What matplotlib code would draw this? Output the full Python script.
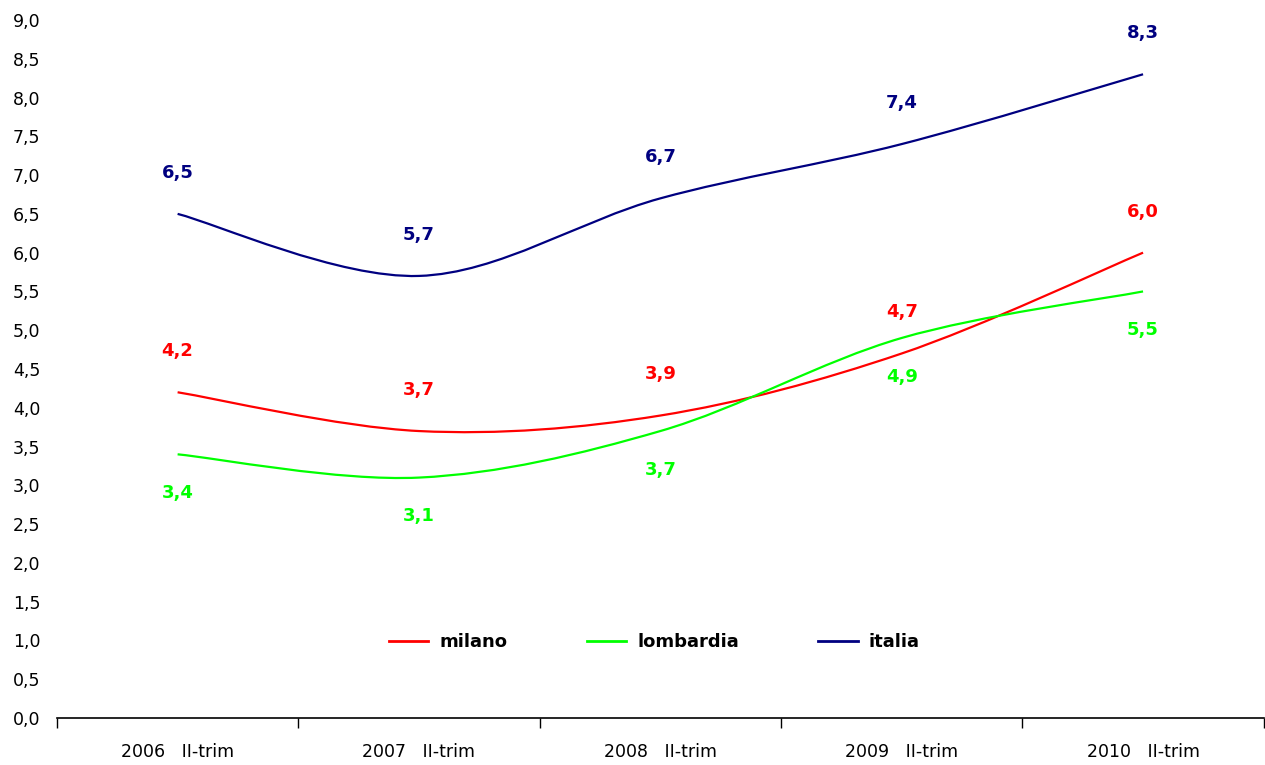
import matplotlib
matplotlib.use("Agg")
import matplotlib.pyplot as plt
from matplotlib.path import Path
from matplotlib.patches import PathPatch
from matplotlib.lines import Line2D
from matplotlib.ticker import FuncFormatter, MultipleLocator, FixedLocator

# data
categories = ["2006   II-trim", "2007   II-trim", "2008   II-trim", "2009   II-trim", "2010   II-trim"]
milano = [4.2, 3.7, 3.9, 4.7, 6.0]
lombardia = [3.4, 3.1, 3.7, 4.9, 5.5]
italia = [6.5, 5.7, 6.7, 7.4, 8.3]

series = [("milano", milano, "#FF0000", 1), ("lombardia", lombardia, "#00FF00", -1),
          ("italia", italia, "#000080", 1)]


def smooth_path(xs, ys, t=1 / 6):
    # bezier curve through the points, like excel's smoothed line
    verts = [(xs[0], ys[0])]
    codes = [Path.MOVETO]
    n = len(xs)
    for i in range(n - 1):
        x0, y0 = (xs[i - 1], ys[i - 1]) if i > 0 else (xs[i], ys[i])
        x1, y1 = xs[i], ys[i]
        x2, y2 = xs[i + 1], ys[i + 1]
        x3, y3 = (xs[i + 2], ys[i + 2]) if i + 2 < n else (x2, y2)
        c1 = (x1 + (x2 - x0) * t, y1 + (y2 - y0) * t)
        c2 = (x2 - (x3 - x1) * t, y2 - (y3 - y1) * t)
        verts += [c1, c2, (x2, y2)]
        codes += [Path.CURVE4] * 3
    return Path(verts, codes)


fig = plt.figure(figsize=(12.65, 7.65), dpi=100)
ax = fig.add_axes([0.045, 0.0614, 0.954, 0.9125])

x = list(range(len(categories)))
handles = []
for name, vals, col, side in series:
    ax.add_patch(PathPatch(smooth_path(x, vals), facecolor="none", edgecolor=col, lw=1.6))
    for xi, v in zip(x, vals):
        off = 0.53 if side > 0 else -0.5
        ax.text(xi, v + off, f"{v:.1f}".replace(".", ","), color=col, fontsize=13,
                fontweight="bold", ha="center", va="center")
    handles.append(Line2D([], [], color=col, lw=2, label=name))

ax.set_xlim(-0.5, 4.5)
ax.set_ylim(0, 9)
ax.yaxis.set_major_locator(MultipleLocator(0.5))
ax.yaxis.set_major_formatter(FuncFormatter(lambda v, p: f"{v:.1f}".replace(".", ",")))
ax.set_xticks(x)
ax.set_xticklabels(categories)
ax.xaxis.set_minor_locator(FixedLocator([i - 0.5 for i in range(len(categories) + 1)]))
ax.tick_params(axis="x", which="major", length=0, pad=18, labelsize=12.5)
ax.tick_params(axis="x", which="minor", length=7, direction="out", width=1)
ax.tick_params(axis="y", length=0, pad=12, labelsize=12.5)
for s in ["top", "right", "left"]:
    ax.spines[s].set_visible(False)
ax.spines["bottom"].set_linewidth(1.2)

ax.legend(handles=handles, loc="center", bbox_to_anchor=(0.495, 0.109), ncol=3,
          frameon=False, prop={"weight": "bold", "size": 13}, columnspacing=4.4,
          handlelength=2.2, handletextpad=0.6)

fig.savefig("out.png", dpi=100)
